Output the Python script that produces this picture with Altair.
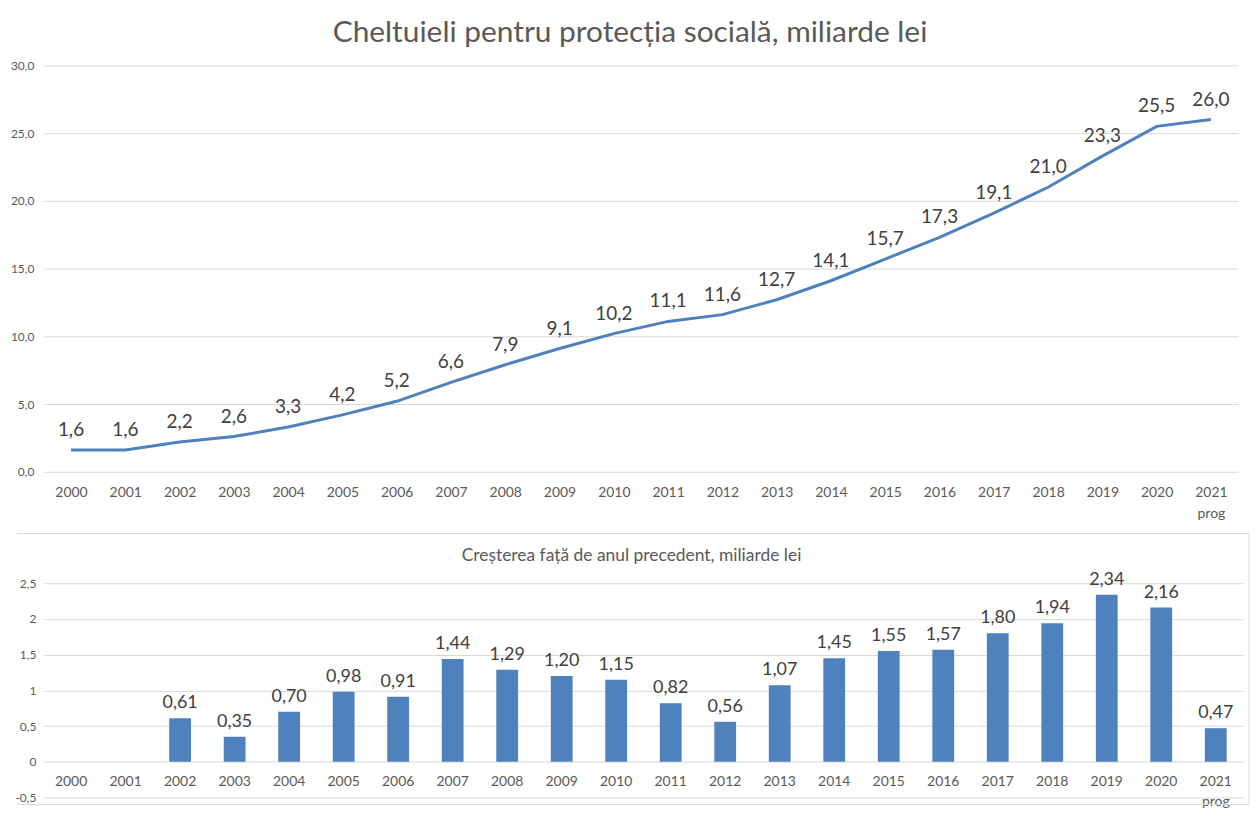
import altair as alt
import pandas as pd

years = [str(y) for y in range(2000, 2022)]
year_labels = years[:-1] + ["2021\nprog"]
spending = [1.6, 1.6, 2.2, 2.6, 3.3, 4.2, 5.2, 6.6, 7.9, 9.1, 10.2, 11.1, 11.6, 12.7,
            14.1, 15.7, 17.3, 19.1, 21.0, 23.3, 25.5, 26.0]
growth = [None, None, 0.61, 0.35, 0.70, 0.98, 0.91, 1.44, 1.29, 1.20, 1.15, 0.82, 0.56,
          1.07, 1.45, 1.55, 1.57, 1.80, 1.94, 2.34, 2.16, 0.47]
top_ticks = [0, 5, 10, 15, 20, 25, 30]
bottom_ticks = [-0.5, 0, 0.5, 1, 1.5, 2, 2.5]
title_top = "Cheltuieli pentru protecția socială, miliarde lei"
title_bottom = "Creșterea față de anul precedent, miliarde lei"

df = pd.DataFrame({"an": year_labels, "cheltuieli": spending, "crestere": growth})

GRID = "#D9D9D9"
BORDER = "#D9D9D9"
AXC = "#595959"
LBL = "#404040"
BLUE = "#4F81BD"

TW, TH = 1199, 408
BW, BH = 1204, 215

xtop = alt.X("an:N", sort=year_labels, title=None,
             scale=alt.Scale(type="point", padding=0.5, domain=year_labels),
             axis=alt.Axis(labelAngle=0, domain=False, ticks=False, grid=False,
                           labelPadding=14, labelFontSize=14, labelColor=AXC, labelLineHeight=21,
                           labelExpr="split(datum.label, '\\n')"))
ytop = alt.Y("cheltuieli:Q", title=None,
             scale=alt.Scale(domain=[0, 30], nice=False, zero=True),
             axis=alt.Axis(values=top_ticks, domain=False, ticks=False, gridColor=GRID,
                           labelExpr="replace(format(datum.value, '.1f'), '.', ',')",
                           labelFontSize=12, labelColor=AXC, labelPadding=10))

base_top = alt.Chart(df).encode(x=xtop, y=ytop)
line = base_top.mark_line(color=BLUE, strokeWidth=3)
line_text = base_top.mark_text(baseline="bottom", dy=-10, fontSize=19, color=LBL).transform_calculate(
    lbl="replace(format(datum.cheltuieli, '.1f'), '.', ',')"
).encode(text="lbl:N")

top = alt.layer(line, line_text).properties(
    width=TW, height=TH,
    title=alt.TitleParams(title_top, fontSize=30, fontWeight="normal", color=AXC,
                          offset=11, anchor="middle", dx=-11))

xbot = alt.X("an:N", sort=year_labels, title=None,
             scale=alt.Scale(type="band", paddingInner=0.6, paddingOuter=0.3, domain=year_labels),
             axis=alt.Axis(labelAngle=0, domain=False, ticks=False, grid=False, offset=-36,
                           labelPadding=13, labelFontSize=14, labelColor=AXC, labelLineHeight=20,
                           labelExpr="split(datum.label, '\\n')"))
ybot = alt.Y("crestere:Q", title=None,
             scale=alt.Scale(domain=[-0.5, 2.5], nice=False),
             axis=alt.Axis(values=bottom_ticks, domain=False, ticks=False, gridColor=GRID,
                           labelExpr="replace(toString(datum.value), '.', ',')",
                           labelFontSize=12, labelColor=AXC, labelPadding=8))

base_bot = alt.Chart(df).transform_filter("isValid(datum.crestere)").encode(x=xbot, y=ybot)
bars = base_bot.mark_bar(color=BLUE)
bar_text = base_bot.mark_text(baseline="bottom", dy=-6, fontSize=18, color=LBL).transform_calculate(
    lbl="replace(format(datum.crestere, '.2f'), '.', ',')"
).encode(text="lbl:N")

deco = alt.Chart(pd.DataFrame({"t": [title_bottom]}))
bot_title = deco.mark_text(fontSize=17.5, color=AXC, baseline="middle", align="center").encode(
    text="t:N", x=alt.value(590), y=alt.value(-27))
sep = deco.mark_rule(color=BORDER, strokeWidth=1).encode(
    x=alt.value(-27), x2=alt.value(1210), y=alt.value(-50))
right_b = deco.mark_rule(color=BORDER, strokeWidth=1).encode(
    x=alt.value(1210), y=alt.value(-50), y2=alt.value(222))
bottom_b = deco.mark_rule(color=BORDER, strokeWidth=1).encode(
    x=alt.value(-27), x2=alt.value(1210), y=alt.value(222))

bottom = alt.layer(bars, bar_text, bot_title, sep, right_b, bottom_b).properties(
    width=BW, height=BH)

chart = alt.vconcat(top, bottom, spacing=12).properties(
    padding={"left": 2, "top": 9, "right": 0, "bottom": 0}
).configure(font="Lato").configure_view(stroke=None)

chart.save("out.html", embed_options={"renderer": "svg", "actions": False})
